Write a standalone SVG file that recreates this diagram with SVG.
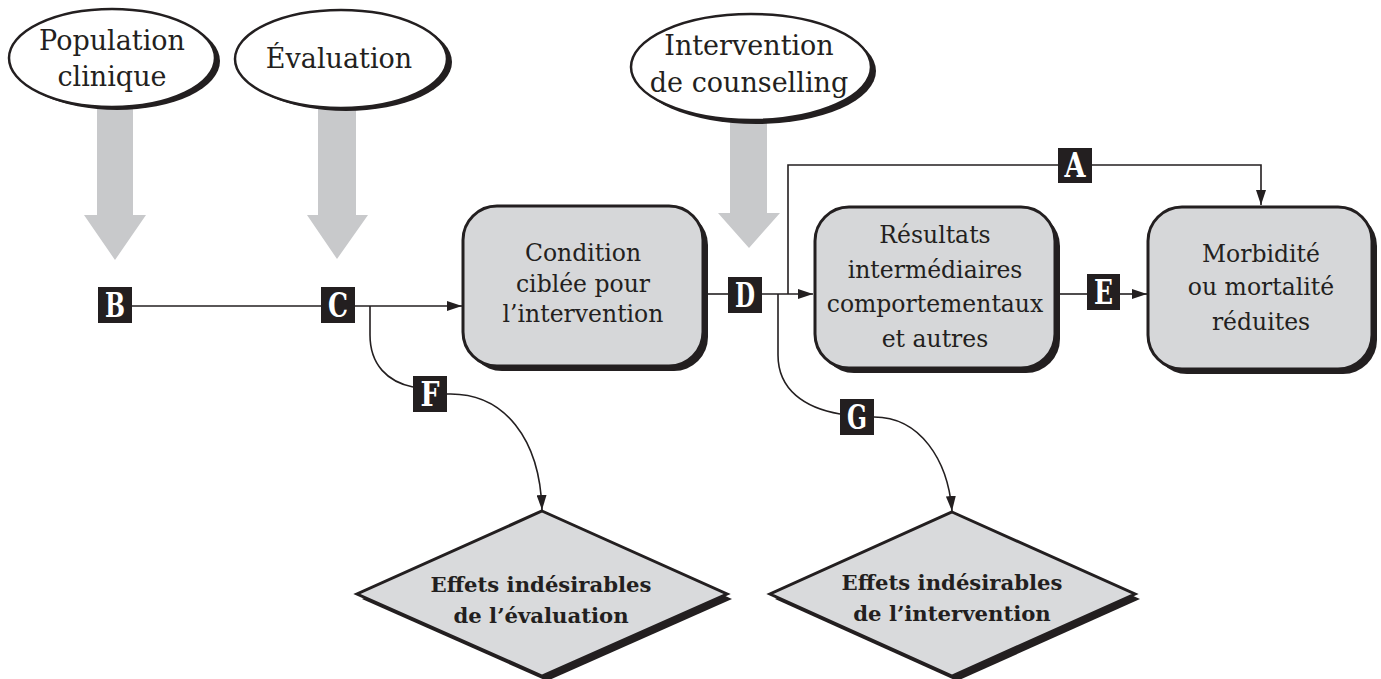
<svg xmlns="http://www.w3.org/2000/svg" width="1381" height="679" viewBox="0 0 1381 679">
  <defs>
    <style>
      .bg { fill: #ffffff; }
      .shadow { fill: #231f20; }
      .oval { fill: #ffffff; stroke: #231f20; stroke-width: 2.5; }
      .box { fill: #d6d7d9; stroke: #231f20; stroke-width: 3; }
      .diamond { fill: #d9dadc; stroke: #231f20; stroke-width: 3; }
      .big-arrow { fill: #c8c9cb; }
      .link { fill: none; stroke: #231f20; stroke-width: 1.6; }
      .txt { font-family: "DejaVu Serif", "Liberation Serif", serif; fill: #231f20; text-anchor: middle; }
      .oval-txt { font-size: 27px; }
      .box-txt { font-size: 23.5px; }
      .dia-txt { font-size: 21.2px; font-weight: bold; }
      .tag { fill: #231f20; }
      .tag-txt { font-family: "DejaVu Serif", "Liberation Serif", serif; font-weight: bold; font-size: 34px; fill: #ffffff; text-anchor: middle; }
    </style>
    <marker id="head" markerUnits="userSpaceOnUse" markerWidth="16" markerHeight="10" refX="15" refY="5" orient="auto">
      <path d="M0,0 L15,5 L0,10 Z" fill="#231f20"/>
    </marker>
  </defs>

  <rect class="bg" x="0" y="0" width="1381" height="679"/>

  <!-- broad grey input arrows -->
  <g id="input-arrows">
    <path class="big-arrow" d="M97,100 H133 V215 H146 L115,260 L84,215 H97 Z"/>
    <path class="big-arrow" d="M318,100 H356 V215 H368 L337,259 L307,215 H318 Z"/>
    <path class="big-arrow" d="M730,110 H767 V213 H780 L749,248 L718,213 H730 Z"/>
  </g>

  <!-- connectors -->
  <g id="connectors">
    <path class="link" d="M132,306 H321"/>
    <path class="link" d="M355,306 H462" marker-end="url(#head)"/>
    <path class="link" d="M370,306 V335 C370,365 388,382 413,387"/>
    <path class="link" d="M447,394 C505,392 540,440 542,510" marker-end="url(#head)"/>
    <path class="link" d="M706,294 H728"/>
    <path class="link" d="M762,294 H813" marker-end="url(#head)"/>
    <path class="link" d="M788,294 V165 H1261 V205" marker-end="url(#head)"/>
    <path class="link" d="M778,294 V355 C778,390 805,408 840,414"/>
    <path class="link" d="M874,417 C920,417 948,460 952,511" marker-end="url(#head)"/>
    <path class="link" d="M1058,294 H1087"/>
    <path class="link" d="M1120,294 H1147" marker-end="url(#head)"/>
  </g>

  <!-- oval inputs -->
  <g id="population">
    <ellipse class="shadow" cx="117" cy="61" rx="103" ry="49"/>
    <ellipse class="oval" cx="112" cy="58" rx="103" ry="49"/>
    <text class="txt oval-txt" x="112" y="50">Population</text>
    <text class="txt oval-txt" x="112" y="86">clinique</text>
  </g>
  <g id="evaluation">
    <ellipse class="shadow" cx="346" cy="62" rx="106" ry="49"/>
    <ellipse class="oval" cx="341" cy="59" rx="106" ry="49"/>
    <text class="txt oval-txt" x="339" y="68">Évaluation</text>
  </g>
  <g id="counselling">
    <ellipse class="shadow" cx="756" cy="71" rx="120" ry="53"/>
    <ellipse class="oval" cx="751" cy="67" rx="120" ry="53"/>
    <text class="txt oval-txt" x="749" y="55">Intervention</text>
    <text class="txt oval-txt" x="749" y="92">de counselling</text>
  </g>

  <!-- rounded process boxes -->
  <g id="condition">
    <rect class="shadow" x="468" y="211" width="240" height="160" rx="34"/>
    <rect class="box" x="463" y="206" width="240" height="160" rx="34"/>
    <text class="txt box-txt" x="583" y="261">Condition</text>
    <text class="txt box-txt" x="583" y="292">ciblée pour</text>
    <text class="txt box-txt" x="583" y="322">l’intervention</text>
  </g>
  <g id="resultats">
    <rect class="shadow" x="820" y="212" width="240" height="161" rx="34"/>
    <rect class="box" x="815" y="207" width="240" height="161" rx="34"/>
    <text class="txt box-txt" x="935" y="243">Résultats</text>
    <text class="txt box-txt" x="935" y="278">intermédiaires</text>
    <text class="txt box-txt" x="935" y="312">comportementaux</text>
    <text class="txt box-txt" x="935" y="347">et autres</text>
  </g>
  <g id="morbidite">
    <rect class="shadow" x="1153" y="212" width="224" height="162" rx="34"/>
    <rect class="box" x="1148" y="207" width="224" height="162" rx="34"/>
    <text class="txt box-txt" x="1261" y="262">Morbidité</text>
    <text class="txt box-txt" x="1261" y="295">ou mortalité</text>
    <text class="txt box-txt" x="1261" y="330">réduites</text>
  </g>

  <!-- adverse-effect diamonds -->
  <g id="effets-evaluation">
    <path class="shadow" d="M547,516 L732,599 L547,681 L362,599 Z"/>
    <path class="diamond" d="M542,511 L727,594 L542,676 L357,594 Z"/>
    <text class="txt dia-txt" x="541" y="592">Effets indésirables</text>
    <text class="txt dia-txt" x="541" y="623">de l’évaluation</text>
  </g>
  <g id="effets-intervention">
    <path class="shadow" d="M957,517 L1140,599 L957,681 L775,599 Z"/>
    <path class="diamond" d="M952,512 L1135,594 L952,676 L770,594 Z"/>
    <text class="txt dia-txt" x="952" y="590">Effets indésirables</text>
    <text class="txt dia-txt" x="952" y="621">de l’intervention</text>
  </g>

  <!-- lettered path tags -->
  <g id="tag-a">
    <rect class="tag" x="1058" y="148" width="34" height="35"/>
    <text class="tag-txt" x="1075" y="177" textLength="21" lengthAdjust="spacingAndGlyphs">A</text>
  </g>
  <g id="tag-b">
    <rect class="tag" x="98" y="287" width="34" height="36"/>
    <text class="tag-txt" x="115" y="317" textLength="20" lengthAdjust="spacingAndGlyphs">B</text>
  </g>
  <g id="tag-c">
    <rect class="tag" x="321" y="287" width="34" height="36"/>
    <text class="tag-txt" x="338" y="317" textLength="20" lengthAdjust="spacingAndGlyphs">C</text>
  </g>
  <g id="tag-d">
    <rect class="tag" x="728" y="277" width="34" height="36"/>
    <text class="tag-txt" x="745" y="307" textLength="20" lengthAdjust="spacingAndGlyphs">D</text>
  </g>
  <g id="tag-e">
    <rect class="tag" x="1087" y="274" width="33" height="36"/>
    <text class="tag-txt" x="1103.5" y="304" textLength="19" lengthAdjust="spacingAndGlyphs">E</text>
  </g>
  <g id="tag-f">
    <rect class="tag" x="413" y="376" width="34" height="36"/>
    <text class="tag-txt" x="430" y="406" textLength="19" lengthAdjust="spacingAndGlyphs">F</text>
  </g>
  <g id="tag-g">
    <rect class="tag" x="840" y="399" width="34" height="36"/>
    <text class="tag-txt" x="857" y="429" textLength="20" lengthAdjust="spacingAndGlyphs">G</text>
  </g>
</svg>
